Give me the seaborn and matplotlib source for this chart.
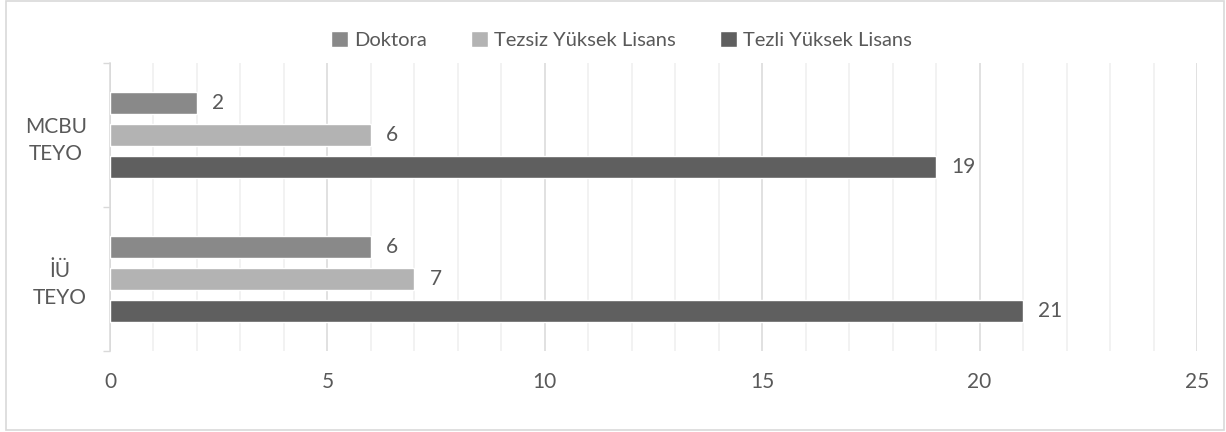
import pandas as pd
import seaborn as sns
import matplotlib.pyplot as plt
from matplotlib.patches import Rectangle
from matplotlib.ticker import MultipleLocator, FixedLocator

# Data
categories = ["MCBU\nTEYO", "İÜ\nTEYO"]
series = ["Doktora", "Tezsiz Yüksek Lisans", "Tezli Yüksek Lisans"]
doktora = [2, 6]
tezsiz = [6, 7]
tezli = [19, 21]
colors = ["#898989", "#b3b3b3", "#5f5f5f"]

# Long format table for seaborn
rows = []
for name, vals in zip(series, [doktora, tezsiz, tezli]):
    for cat, v in zip(categories, vals):
        rows.append({"Kurum": cat, "Program": name, "Sayi": v})
df = pd.DataFrame(rows)

sns.set_style("white")
plt.rcParams['font.family'] = ['Lato', 'DejaVu Sans']
text_color = "#595959"
fs = 15

fig = plt.figure(figsize=(12.26, 4.32), dpi=100)
ax = fig.add_axes([110 / 1226, 1 - 351 / 432, (1197 - 110) / 1226, (351 - 63) / 432])

sns.barplot(data=df, y="Kurum", x="Sayi", hue="Program", order=categories,
            hue_order=series, palette=colors, orient="h", width=0.667,
            gap=0.33, ax=ax, saturation=1, legend=True, zorder=3)

# Value labels
for cont in ax.containers:
    ax.bar_label(cont, padding=11, fontsize=fs, color=text_color)

# Axis ranges and grid
ax.set_xlim(0, 25)
ax.set_ylim(1.5, -0.5)
ax.xaxis.set_major_locator(MultipleLocator(5))
ax.xaxis.set_minor_locator(MultipleLocator(1))
ax.grid(axis="x", which="major", color="#d9d9d9", linewidth=1.1, zorder=0)
ax.grid(axis="x", which="minor", color="#efefef", linewidth=1.1, zorder=0)
ax.set_axisbelow(True)

ax.yaxis.set_minor_locator(FixedLocator([-0.5, 0.5, 1.5]))
ax.tick_params(axis="y", which="major", length=0, pad=16.5, labelsize=fs, labelcolor=text_color)
ax.tick_params(axis="y", which="minor", length=5, width=1, color="#d9d9d9", left=True)
ax.tick_params(axis="x", which="both", length=0, pad=15, labelsize=fs, labelcolor=text_color)
for lab in ax.get_yticklabels():
    lab.set_multialignment("center")
    lab.set_linespacing(1.45)

for side in ["top", "right", "bottom"]:
    ax.spines[side].set_visible(False)
ax.spines["left"].set_color("#d9d9d9")
ax.spines["left"].set_linewidth(1.1)

ax.set_xlabel("")
ax.set_ylabel("")

# Legend at the top
handles, labels = ax.get_legend_handles_labels()
ax.get_legend().remove()
fig.legend(handles, labels, loc="center", bbox_to_anchor=(0.507, 1 - 40 / 432), ncol=3,
           frameon=False, fontsize=14.5, labelcolor=text_color, handlelength=0.85,
           handleheight=0.85, handletextpad=0.3, columnspacing=2.2)

# Light frame around the chart
fig.patches.append(Rectangle((6 / 1226, 2 / 432), 1218 / 1226, 429 / 432,
                             transform=fig.transFigure, fill=False,
                             edgecolor="#d9d9d9", linewidth=1.2))

fig.savefig("out.png", dpi=100)
